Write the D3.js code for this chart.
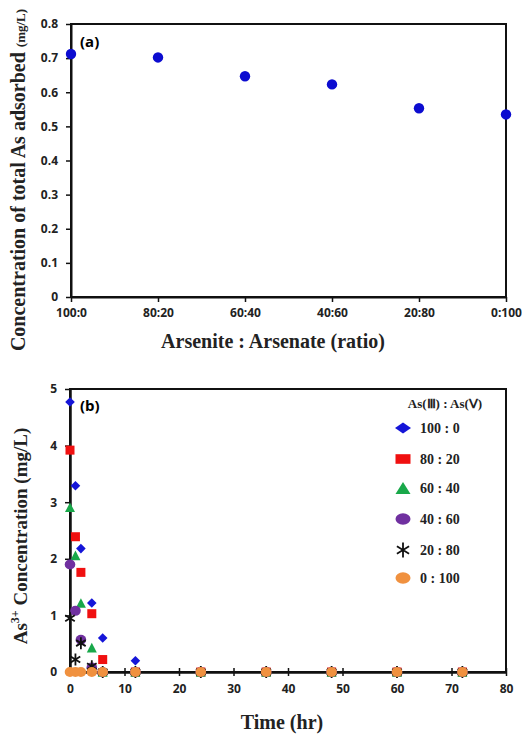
<!DOCTYPE html>
<html>
<head>
<meta charset="utf-8">
<script src="https://cdn.jsdelivr.net/npm/d3@7"></script>
<style>
  body { margin: 0; background: #fff; }
  .tick text { font-family: "Open Sans", "Liberation Sans", sans-serif; font-weight: bold; font-size: 12px; fill: #222; }
  .ttl { font-family: "Liberation Serif", "Times New Roman", serif; font-weight: bold; fill: #222; }
</style>
</head>
<body>
<svg id="chart" width="522" height="734"></svg>
<script>
// ---- panel (a) data
const ratios = ["100:0", "80:20", "60:40", "40:60", "20:80", "0:100"];
const adsorbed = [0.712, 0.702, 0.647, 0.623, 0.553, 0.535];
const yTicksA = [0, 0.1, 0.2, 0.3, 0.4, 0.5, 0.6, 0.7, 0.8];

// ---- panel (b) data
const times = [0, 1, 2, 4, 6, 12, 24, 36, 48, 60, 72];
const seriesNames = ["100 : 0", "80 : 20", "60 : 40", "40 : 60", "20 : 80", "0 : 100"];
const as100_0 = [4.77, 3.29, 2.18, 1.22, 0.60, 0.20, 0, 0, 0, 0, 0];
const as80_20 = [3.92, 2.39, 1.76, 1.03, 0.22, 0, 0, 0, 0, 0, 0];
const as60_40 = [2.91, 2.06, 1.22, 0.43, 0, 0, 0, 0, 0, 0, 0];
const as40_60 = [1.90, 1.08, 0.57, 0.08, 0, 0, 0, 0, 0, 0, 0];
const as20_80 = [0.95, 0.22, 0.51, 0.10, 0, 0, 0, 0, 0, 0, 0];
const as0_100 = [0, 0, 0, 0, 0, 0, 0, 0, 0, 0, 0];
const xTicksB = [0, 10, 20, 30, 40, 50, 60, 70, 80];
const yTicksB = [0, 1, 2, 3, 4, 5];

const svg = d3.select("#chart");

// ================= panel (a)
const xA = d3.scalePoint().domain(ratios).range([71, 506]).padding(0);
const yA = d3.scaleLinear().domain([0, 0.8]).range([297, 24]);

// box
svg.append("rect")
    .attr("x", 71).attr("y", yA(0.8))
    .attr("width", 506 - 71).attr("height", yA(0) - yA(0.8))
    .attr("fill", "none").attr("stroke", "#111").attr("stroke-width", 2);

svg.append("g")
    .attr("transform", `translate(0,${yA(0)})`)
    .call(d3.axisBottom(xA).tickSizeInner(5).tickSizeOuter(0).tickPadding(6))
    .call(g => g.select(".domain").attr("stroke", "#111").attr("stroke-width", 2))
    .call(g => g.selectAll(".tick line").attr("stroke", "#111").attr("stroke-width", 1.5));

svg.append("g")
    .attr("transform", `translate(71,0)`)
    .call(d3.axisLeft(yA).tickValues(yTicksA).tickFormat(d => d === 0 ? "0" : d.toFixed(1))
        .tickSizeInner(5).tickSizeOuter(0).tickPadding(8))
    .call(g => g.select(".domain").attr("stroke", "#111").attr("stroke-width", 2))
    .call(g => g.selectAll(".tick line").attr("stroke", "#111").attr("stroke-width", 1.5));

svg.append("g")
    .selectAll("circle")
    .data(ratios)
    .enter().append("circle")
    .attr("cx", d => xA(d))
    .attr("cy", (d, i) => yA(adsorbed[i]))
    .attr("r", 5.2)
    .attr("fill", "#0c0cd0");

svg.append("text")
    .attr("x", 80).attr("y", 47)
    .attr("font-family", "Open Sans, Liberation Sans, sans-serif")
    .attr("font-weight", "bold").attr("font-size", 15)
    .text("(a)");

// axis titles (a)
svg.append("text").attr("class", "ttl")
    .attr("x", 273).attr("y", 348)
    .attr("text-anchor", "middle").attr("font-size", 20)
    .text("Arsenite : Arsenate (ratio)");

const tA = svg.append("text").attr("class", "ttl")
    .attr("transform", "translate(25,180) rotate(-90)")
    .attr("text-anchor", "middle").attr("font-size", 20);
tA.append("tspan").text("Concentration of total As adsorbed ");
tA.append("tspan").attr("font-size", 13).text("(mg/L)");

// ================= panel (b)
const xB = d3.scaleLinear().domain([0, 80]).range([70, 506]);
const yB = d3.scaleLinear().domain([0, 5]).range([672, 389]);

svg.append("rect")
    .attr("x", 70).attr("y", yB(5))
    .attr("width", 506 - 70).attr("height", yB(0) - yB(5))
    .attr("fill", "none").attr("stroke", "#111").attr("stroke-width", 2);

svg.append("g")
    .attr("transform", `translate(0,${yB(0)})`)
    .call(d3.axisBottom(xB).tickValues(xTicksB).tickFormat(d3.format("d"))
        .tickSizeInner(5).tickSizeOuter(0).tickPadding(7))
    .call(g => g.select(".domain").attr("stroke", "#111").attr("stroke-width", 2.5))
    .call(g => g.selectAll(".tick line").attr("y1", -4).attr("y2", 4).attr("stroke", "#111").attr("stroke-width", 1.5));

svg.append("g")
    .attr("transform", `translate(70,0)`)
    .call(d3.axisLeft(yB).tickValues(yTicksB).tickFormat(d3.format("d"))
        .tickSizeInner(5).tickSizeOuter(0).tickPadding(8))
    .call(g => g.select(".domain").attr("stroke", "#111").attr("stroke-width", 2.5))
    .call(g => g.selectAll(".tick line").attr("stroke", "#111").attr("stroke-width", 1.5));

const series = [
    { name: seriesNames[0], values: as100_0, color: "#1515d8", shape: "diamond" },
    { name: seriesNames[1], values: as80_20, color: "#f01010", shape: "square" },
    { name: seriesNames[2], values: as60_40, color: "#19a84a", shape: "triangle" },
    { name: seriesNames[3], values: as40_60, color: "#7030a0", shape: "circle" },
    { name: seriesNames[4], values: as20_80, color: "#111111", shape: "star" },
    { name: seriesNames[5], values: as0_100, color: "#f0913f", shape: "circle" }
];

function drawMarker(g, shape, color, sx, sy) {
    // sx, sy = half width / half height
    if (shape === "diamond") {
        g.append("path").attr("d", `M${-sx},0L0,${-sy}L${sx},0L0,${sy}Z`).attr("fill", color);
    } else if (shape === "square") {
        g.append("rect").attr("x", -sx).attr("y", -sy).attr("width", 2 * sx).attr("height", 2 * sy).attr("fill", color);
    } else if (shape === "triangle") {
        g.append("path").attr("d", `M${-sx},${sy}L0,${-sy}L${sx},${sy}Z`).attr("fill", color);
    } else if (shape === "circle") {
        g.append("ellipse").attr("rx", sx).attr("ry", sy).attr("fill", color);
    } else if (shape === "star") {
        const dx = sx * 0.87, dy = sy * 0.5;
        g.append("path")
            .attr("d", `M0,${-sy}L0,${sy}M${-dx},${-dy}L${dx},${dy}M${-dx},${dy}L${dx},${-dy}`)
            .attr("stroke", color).attr("stroke-width", 1.8).attr("fill", "none");
    }
}

const sizes = { diamond: [4.8, 4.8], square: [4.5, 4.5], triangle: [5, 4.8], circle: [5.3, 5], star: [5.5, 6] };

series.forEach(s => {
    const g = svg.append("g");
    times.forEach((t, i) => {
        const m = g.append("g").attr("transform", `translate(${xB(t)},${yB(s.values[i])})`);
        drawMarker(m, s.shape, s.color, sizes[s.shape][0], sizes[s.shape][1]);
    });
});

svg.append("text")
    .attr("x", 80).attr("y", 411)
    .attr("font-family", "Open Sans, Liberation Sans, sans-serif")
    .attr("font-weight", "bold").attr("font-size", 15)
    .text("(b)");

// legend
svg.append("text").attr("class", "ttl")
    .attr("x", 445).attr("y", 408)
    .attr("text-anchor", "middle").attr("font-size", 13)
    .text("As(Ⅲ) : As(Ⅴ)");

const legendY = [428, 459, 488, 519, 550, 578];
const legendSizes = { diamond: [8, 5.5], square: [7.5, 4.8], triangle: [7.5, 6], circle: [7.5, 5.8], star: [7, 7.5] };
series.forEach((s, i) => {
    const m = svg.append("g").attr("transform", `translate(403,${legendY[i]})`);
    drawMarker(m, s.shape, s.color, legendSizes[s.shape][0], legendSizes[s.shape][1]);
    svg.append("text").attr("class", "ttl")
        .attr("x", 420).attr("y", legendY[i] + 5)
        .attr("font-size", 14)
        .text(s.name);
});

// axis titles (b)
svg.append("text").attr("class", "ttl")
    .attr("x", 282).attr("y", 729)
    .attr("text-anchor", "middle").attr("font-size", 20)
    .text("Time (hr)");

const tB = svg.append("text").attr("class", "ttl")
    .attr("transform", "translate(27,536) rotate(-90)")
    .attr("text-anchor", "middle").attr("font-size", 19);
tB.append("tspan").text("As");
tB.append("tspan").attr("font-size", 12).attr("dy", -8).text("3+");
tB.append("tspan").attr("dy", 8).text(" Concentration (mg/L)");
</script>
</body>
</html>
